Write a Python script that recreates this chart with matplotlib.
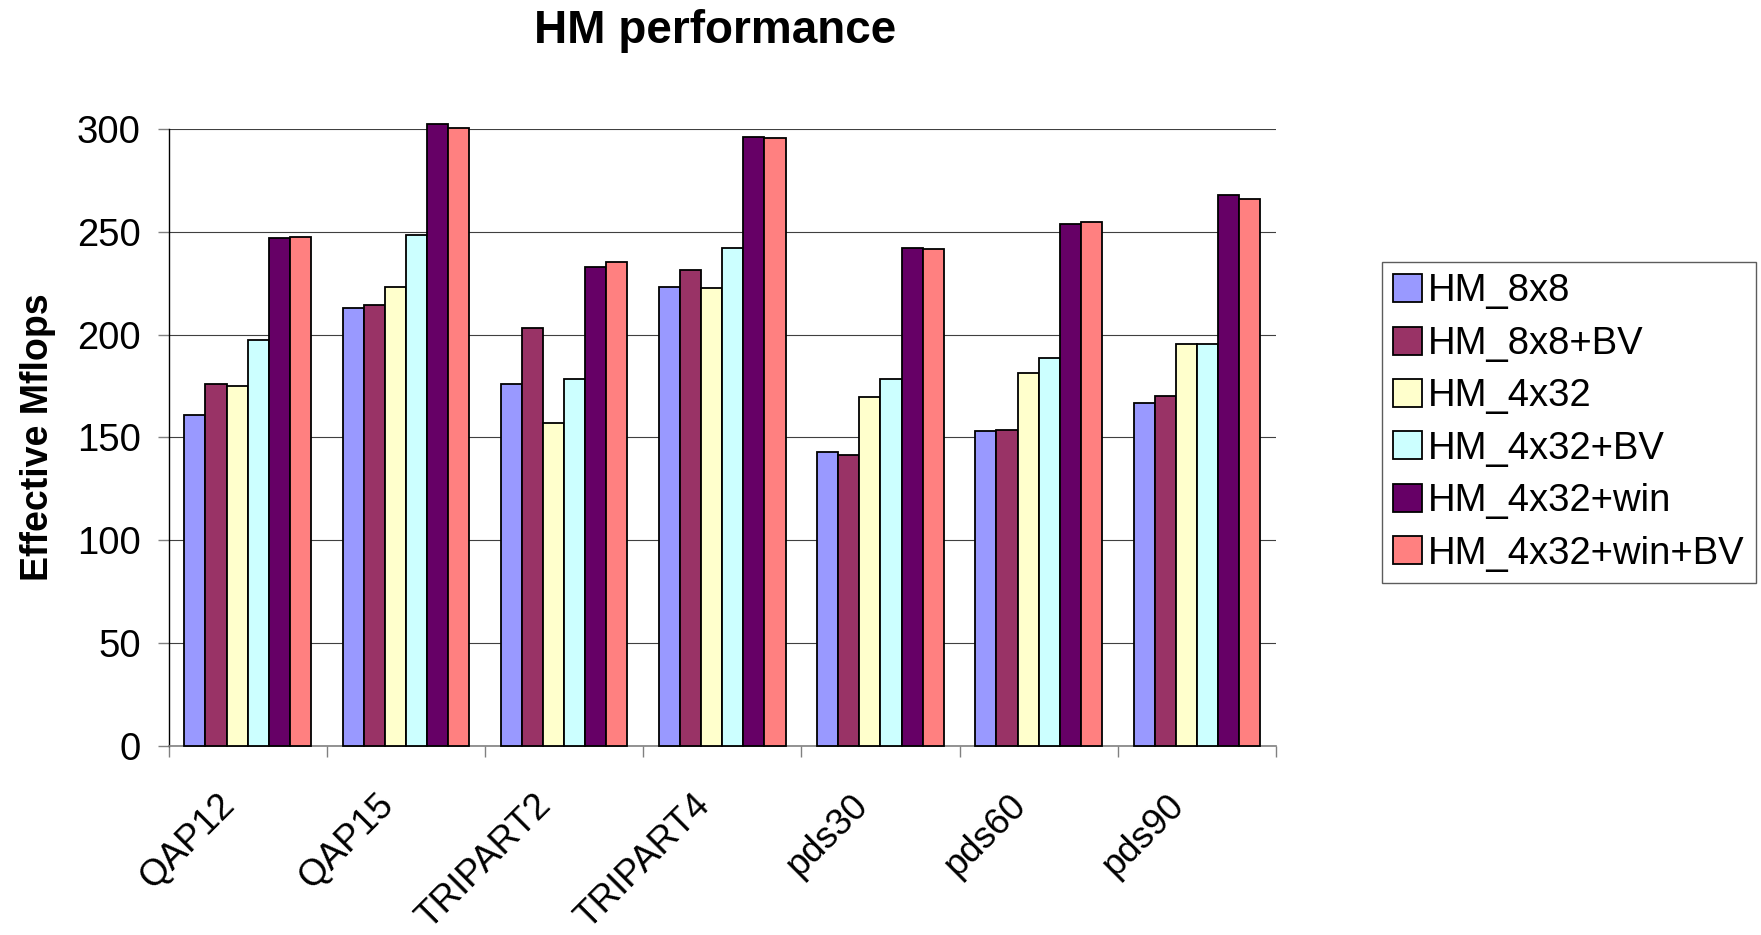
import matplotlib
matplotlib.use("Agg")
import matplotlib.pyplot as plt
import matplotlib.transforms as mtransforms
import numpy as np

plt.rcParams['font.family'] = ['Liberation Sans', 'DejaVu Sans']

categories = ['QAP12', 'QAP15', 'TRIPART2', 'TRIPART4', 'pds30', 'pds60', 'pds90']
series_names = ['HM_8x8', 'HM_8x8+BV', 'HM_4x32', 'HM_4x32+BV', 'HM_4x32+win', 'HM_4x32+win+BV']
hm_8x8 = [161, 213, 176, 223, 143, 153, 166.5]
hm_8x8_bv = [176, 214.5, 203, 231.5, 141.5, 153.5, 170]
hm_4x32 = [175, 223, 157, 222.5, 169.5, 181.5, 195.5]
hm_4x32_bv = [197.5, 248.5, 178.5, 242, 178.5, 188.5, 195.5]
hm_4x32_win = [247, 302.5, 233, 296, 242, 254, 268]
hm_4x32_win_bv = [247.5, 300.5, 235.5, 295.5, 241.5, 255, 266]
yticks = [0, 50, 100, 150, 200, 250, 300]

series = [hm_8x8, hm_8x8_bv, hm_4x32, hm_4x32_bv, hm_4x32_win, hm_4x32_win_bv]
colors = ['#9999FF', '#993366', '#FFFFCC', '#CCFFFF', '#660066', '#FF8080']

W, H = 1761, 935
fig = plt.figure(figsize=(W / 100, H / 100), dpi=100)
left, right, top, bottom = 168.5, 1276, 129, 745.8
ax = fig.add_axes([left / W, 1 - bottom / H, (right - left) / W, (bottom - top) / H])

n = len(series)
w = 1 / (n + 1.5)
x = np.arange(len(categories))
for i, (vals, c, name) in enumerate(zip(series, colors, series_names)):
    ax.bar(x + (i - (n - 1) / 2) * w, vals, width=w, color=c, edgecolor='black',
           linewidth=1.3, label=name, zorder=3, clip_on=False)

ax.set_xlim(-0.5, len(categories) - 0.5)
ax.set_ylim(0, 300)
ax.set_yticks(yticks)
ax.set_yticklabels([str(v) for v in yticks], fontsize=27.5)
ax.yaxis.grid(True, color='#404040', linewidth=0.8, zorder=0)
ax.set_axisbelow(True)

# ticks at category boundaries, labels at category centres
ax.set_xticks(np.arange(len(categories) + 1) - 0.5)
ax.set_xticklabels([''] * (len(categories) + 1))
label_trans = ax.get_xaxis_transform() + mtransforms.ScaledTranslation(
    -18 / 100, -54 / 100, fig.dpi_scale_trans)
for xi, cat in zip(x, categories):
    ax.text(xi, 0, cat, transform=label_trans, fontsize=26.5, rotation=45,
            ha='right', va='center', rotation_mode='anchor')

ax.tick_params(axis='x', which='major', length=8, width=1, color='#808080', direction='out')
ax.tick_params(axis='y', which='major', length=8, width=1, color='#808080', direction='out', pad=12)

for sp in ['top', 'right']:
    ax.spines[sp].set_visible(False)
ax.spines['left'].set_color('black')
ax.spines['left'].set_linewidth(1)
ax.spines['bottom'].set_color('#808080')
ax.spines['bottom'].set_linewidth(1.2)

fig.text(715 / W, 1 - 31 / H, 'HM performance', fontsize=33, fontweight='bold',
         ha='center', va='center')
fig.text(38 / W, 1 - 437 / H, 'Effective Mflops', fontsize=27, fontweight='bold',
         ha='center', va='center', rotation=90)

leg = fig.legend(loc='upper left', bbox_to_anchor=(1382 / W, 1 - 262 / H),
                 bbox_transform=fig.transFigure, fontsize=27.5, frameon=True,
                 fancybox=False, shadow=False, borderaxespad=0, borderpad=0.3,
                 handlelength=0.75, handleheight=0.75, handletextpad=0.15,
                 labelspacing=0.43)
leg.get_frame().set_edgecolor('#333333')
leg.get_frame().set_linewidth(1)
for p in leg.get_patches():
    p.set_linewidth(1.3)

fig.savefig('out.png', dpi=100)
